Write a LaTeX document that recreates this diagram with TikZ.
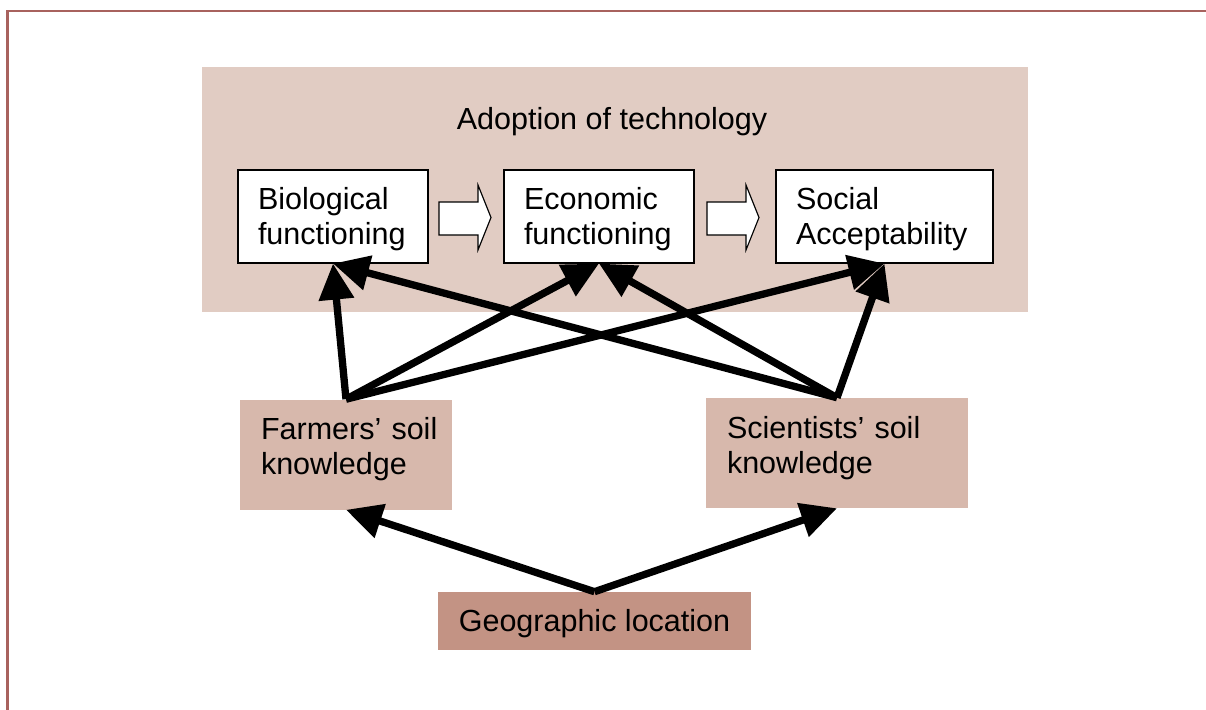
\documentclass[tikz,border=0pt]{standalone}
\usepackage{fontspec}
\setmainfont{Liberation Sans}
\usepackage{xcolor}
\usetikzlibrary{arrows.meta}

\newcommand{\pxu}{0.025cm}
\definecolor{adoptbg}{HTML}{E1CCC3}
\definecolor{knowbg}{HTML}{D7B8AC}
\definecolor{geobg}{HTML}{C39384}
\definecolor{framecol}{HTML}{A8625E}

\tikzset{
    every node/.style={font=\fontsize{21.7}{25}\selectfont},
    funcbox/.style={draw=black, line width=0.8pt, fill=white, inner xsep=20*\pxu, inner ysep=0pt, align=left, text height=19.8pt, minimum height=93*\pxu},
    knowbox/.style={fill=knowbg, inner xsep=21*\pxu, inner ysep=0pt, align=left, text depth=37pt, minimum height=110*\pxu},
    thickarrow/.style={line width=5.2pt, -{Triangle[length=0.9cm, width=0.85cm]}},
    hollowarrow/.style={draw=black, line width=0.8pt, fill=white},
}

\begin{document}
\begin{tikzpicture}[x=\pxu, y=-\pxu]
        \useasboundingbox (0,0) rectangle (1206,710);
        \draw[framecol, line width=1.5pt] (1206,11) -- (7.5,11) -- (7.5,710);

        % adoption block
        \node[fill=adoptbg, minimum width=826*\pxu, minimum height=245*\pxu, inner sep=0pt] (adopt) at (615,189.5) {};
        \node (title) at (612,122) {Adoption of technology};

        \node[funcbox, text width=150*\pxu] (bio) at (333,216.5) {Biological\\functioning};
        \node[funcbox, text width=150*\pxu] (econ) at (599,216.5) {Economic\\functioning};
        \node[funcbox, text width=177*\pxu] (social) at (884.5,216.5) {Social\\Acceptability};

        \draw[hollowarrow] (439,202) -- (478,202) -- (478,185) -- (491,217.5) -- (478,250) -- (478,235) -- (439,235) -- cycle;
        \draw[hollowarrow] (707,202) -- (746,202) -- (746,185) -- (759,217.5) -- (746,250) -- (746,235) -- (707,235) -- cycle;

        % knowledge
        \node[knowbox, text width=170*\pxu] (farm) at (346,454.5) {Farmers’~soil\\knowledge};
        \node[knowbox, text width=220*\pxu] (sci) at (837,453) {Scientists’~soil\\knowledge};
        \node[fill=geobg, minimum width=313*\pxu, minimum height=58*\pxu, inner sep=0pt, text height=20pt] (geo) at (594.5,621) {Geographic location};

        \draw[thickarrow] (farm.north) -- (bio.south);
        \draw[thickarrow] (farm.north) -- (econ.south);
        \draw[thickarrow] (farm.north) -- (social.south);
        \draw[thickarrow] (sci.north) -- (bio.south);
        \draw[thickarrow] (sci.north) -- (econ.south);
        \draw[thickarrow] (sci.north) -- (social.south);

        \draw[thickarrow] (geo.north) -- (farm.south);
        \draw[thickarrow] (geo.north) -- (sci.south);
\end{tikzpicture}
\end{document}
